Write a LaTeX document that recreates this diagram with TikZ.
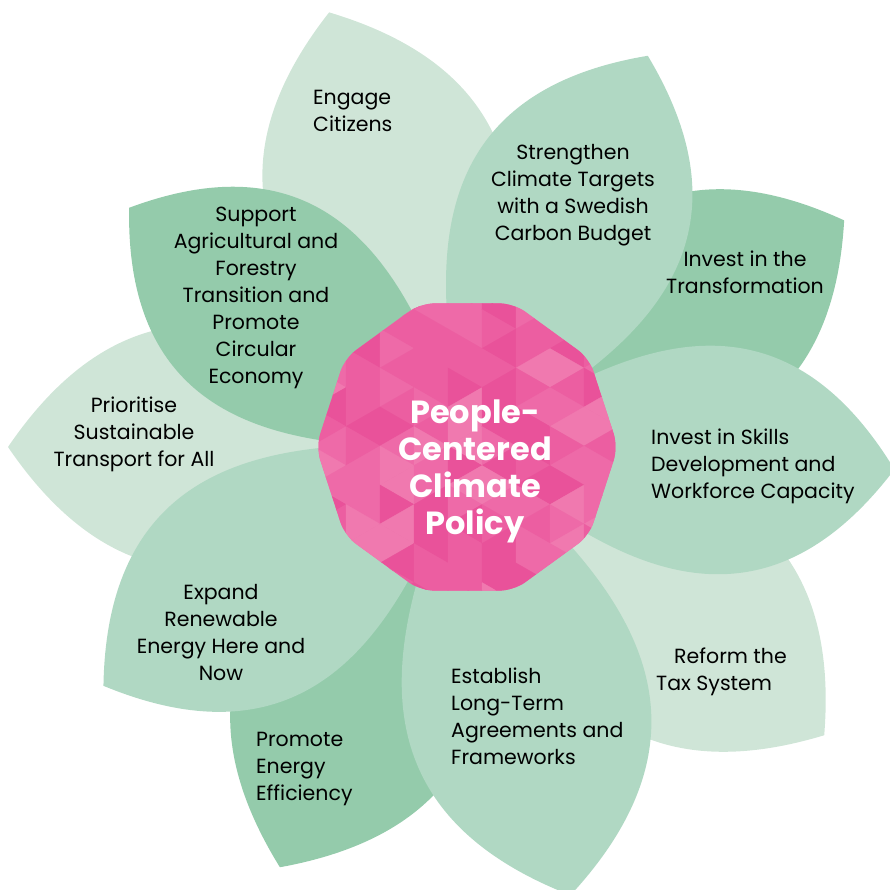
\documentclass[tikz,border=0pt]{standalone}
\usepackage{fontspec}
\setmainfont{Poppins}
\usepackage{tikz}
\definecolor{leafLight}{HTML}{CFE5D7}
\definecolor{leafMid}{HTML}{B0D8C3}
\definecolor{leafDark}{HTML}{94CBAB}
\definecolor{tri1}{HTML}{E9529A}
\definecolor{tri2}{HTML}{EC5EA1}
\definecolor{tri3}{HTML}{EE6AA8}
\definecolor{tri4}{HTML}{F079AF}
\tikzset{
    goal/.style={font=\fontsize{20.5}{27}\selectfont, text=black, inner sep=0pt},
    goalleft/.style={goal, anchor=west, align=left},
    goalmid/.style={goal, align=center},
    core/.style={font=\fontsize{32}{37}\selectfont\bfseries, text=white, align=center, inner sep=0pt}
}

\begin{document}
\begin{tikzpicture}[x=1pt, y=-1pt]
    \useasboundingbox (0,0) rectangle (890,889);
    % petals, the ones underneath first
    \foreach \ang/\len/\col in {107.6/456/leafLight, 31/440/leafDark, -38.9/459/leafLight,
        -114/460/leafDark, 180/459/leafLight, 65.2/431/leafMid, -3/428/leafMid,
        -77/460/leafMid, -146.7/435/leafMid, 144.7/414/leafDark} {
        \fill[\col, shift={(467,447)}, rotate=\ang]
        (0,0) .. controls (0.3*\len,0.22*\len) and (0.68*\len,0.47*\len) .. (\len,0)
        .. controls (0.68*\len,-0.47*\len) and (0.3*\len,-0.22*\len) .. cycle;
    }
    % pink decagon with triangles
    \begin{scope}
        \clip[shift={(467,447)}, rounded corners=14pt]
        (0:151) -- (36:151) -- (72:151) -- (108:151) -- (144:151) -- (180:151)
        -- (216:151) -- (252:151) -- (288:151) -- (324:151) -- cycle;
        \fill[tri3] (300,290) rectangle (640,610);
        \pgfmathsetseed{5}
        \foreach \i in {0,...,9} {
            \foreach \j in {-1,...,8} {
                \pgfmathsetmacro{\xa}{312+34*\i}
                \pgfmathsetmacro{\ya}{290+19.5*mod(\i,2)+39*\j}
                \pgfmathrandominteger{\ka}{1}{4}
                \pgfmathrandominteger{\kb}{1}{4}
                \filldraw[tri\ka, line width=0.3pt] (\xa,\ya) -- (\xa,\ya+39) -- (\xa+34,\ya+19.5) -- cycle;
                \filldraw[tri\kb, line width=0.3pt] (\xa+34,\ya+19.5) -- (\xa+34,\ya+58.5) -- (\xa,\ya+39) -- cycle;
            }
        }
    \end{scope}
    \node[core] (centre) at (475,471) {People-\\Centered\\Climate\\Policy};
    % petal texts
    \node[goalleft] (citizens) at (313,110.5) {Engage\\Citizens};
    \node[goalmid] (targets) at (573,195.5) {Strengthen\\Climate Targets\\with a Swedish\\Carbon Budget};
    \node[goalmid] (transform) at (745,272.5) {Invest in the\\Transformation};
    \node[goalleft] (skills) at (651,466) {Invest in Skills\\Development and\\Workforce Capacity};
    \node[goalleft] (tax) at (656,671.5) {\hspace*{18pt}Reform the\\Tax System};
    \node[goalleft] (agreements) at (451,716) {Establish\\Long-Term\\Agreements and\\Frameworks};
    \node[goalleft] (efficiency) at (256,768.5) {Promote\\Energy\\Efficiency};
    \node[goalmid] (renewable) at (221,632.5) {Expand\\Renewable\\Energy Here and\\Now};
    \node[goalmid] (transport) at (134,434) {Prioritise\\Sustainable\\Transport for All};
    \node[goalmid] (forestry) at (256,297.5) {Support\\Agricultural and\\Forestry\\Transition and\\Promote\\Circular\\Economy};
\end{tikzpicture}
\end{document}
